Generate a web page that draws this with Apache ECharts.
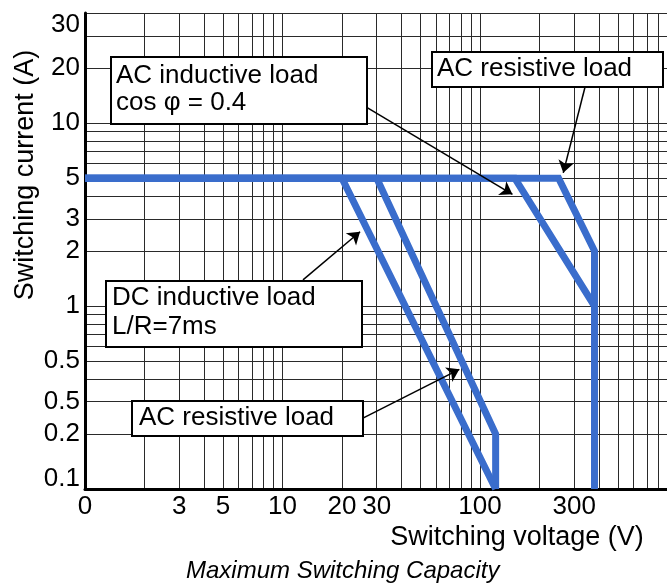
<!DOCTYPE html>
<html>
<head>
<meta charset="utf-8">
<script src="https://cdn.jsdelivr.net/npm/echarts@6/dist/echarts.min.js"></script>
<style>
html, body { margin: 0; padding: 0; background: #fff; }
#chart { width: 667px; height: 586px; }
</style>
</head>
<body>
<div id="chart"></div>
<script>
// ---- data ----
const xTickValues = [1, 3, 5, 10, 20, 30, 100, 300];
const xTickLabels = ['0', '3', '5', '10', '20', '30', '100', '300'];
const yTickValues = [0.1, 0.2, 0.3, 0.5, 1, 2, 3, 5, 10, 20, 30];
const yTickLabels = ['0.1', '0.2', '0.5', '0.5', '1', '2', '3', '5', '10', '20', '30'];
const xGridValues = [2, 3, 4, 5, 6, 7, 8, 9, 10, 20, 30, 40, 50, 60, 70, 80, 90, 100, 200, 300, 400, 500, 600, 700, 800];
const yGridValues = [0.2, 0.3, 0.4, 0.5, 0.6, 0.7, 0.8, 0.9, 1, 2, 3, 4, 5, 6, 7, 8, 9, 10, 20, 30, 40];
const acResistiveHigh = [[1, 5], [250, 5], [380, 2], [380, 0.1]];
const acInductive = [[1, 5], [150, 5], [380, 1], [380, 0.1]];
const acResistiveLow = [[1, 5], [30, 5], [120, 0.2], [120, 0.1]];
const dcInductive = [[1, 5], [20, 5], [120, 0.1]];
// annotation arrows (from -> to, in data units)
const arrowFrom = [[26.7, 12.2], [340, 15.7], [12.7, 1.39], [25.7, 0.245]];
const arrowTo = [[146, 4.08], [264, 5.35], [24.7, 2.55], [78.6, 0.451]];

// ---- styling ----
const FONT = '"Liberation Sans", Arial, Helvetica, sans-serif';
const BLUE = '#3a6dcc';
const GRID = '#2a2a2a';
const yLabelRaise = { '30': 11, '0.1': 10 };

function nearestIndex(vals, v) {
  let best = 0, bd = Infinity;
  for (let i = 0; i < vals.length; i++) {
    const d = Math.abs(Math.log(v) - Math.log(vals[i]));
    if (d < bd) { bd = d; best = i; }
  }
  return best;
}

function blueSeries(name, data, extra) {
  return Object.assign({
    name: name,
    type: 'line',
    data: data,
    symbol: 'none',
    silent: true,
    lineStyle: { color: BLUE, width: 7, join: 'miter', cap: 'butt' },
    z: 3
  }, extra || {});
}

const chart = echarts.init(document.getElementById('chart'), null, { renderer: 'canvas' });

const rich = {
  n: { fontSize: 26, fontFamily: FONT, color: '#000' },
  up10: { fontSize: 26, fontFamily: FONT, color: '#000', padding: [0, 0, 20, 0] },
  up11: { fontSize: 26, fontFamily: FONT, color: '#000', padding: [0, 0, 22, 0] }
};

function boxText(x, y, text) {
  return {
    type: 'text', x: x, y: y, z: 101, silent: true,
    style: {
      text: text, font: '26px ' + FONT, fill: '#000',
      align: 'left', textAlign: 'left', verticalAlign: 'middle', textVerticalAlign: 'middle'
    }
  };
}
function boxRect(x, y, w, h) {
  return {
    type: 'rect', z: 100, silent: true,
    shape: { x: x, y: y, width: w, height: h },
    style: { fill: '#fff', stroke: '#000', lineWidth: 2 }
  };
}

const option = {
  animation: false,
  backgroundColor: '#fff',
  title: {
    text: 'Maximum Switching Capacity',
    left: 186, top: 559, padding: 0,
    textStyle: { fontSize: 24, fontStyle: 'italic', fontWeight: 'normal', fontFamily: FONT, color: '#000' }
  },
  grid: { left: 85, top: 13, width: 592.5, height: 476, containLabel: false, outerBoundsMode: 'none' },
  xAxis: {
    type: 'log', logBase: 10, min: 1, max: 1000,
    axisLine: { show: true, lineStyle: { color: '#000', width: 3 } },
    axisTick: { show: false, customValues: xGridValues },
    minorTick: { show: false },
    splitLine: { show: true, lineStyle: { color: GRID, width: 1 } },
    axisLabel: {
      customValues: xTickValues,
      margin: 5,
      hideOverlap: false,
      fontSize: 26, fontFamily: FONT, color: '#000',
      formatter: function (v) { return xTickLabels[nearestIndex(xTickValues, v)]; }
    }
  },
  yAxis: {
    type: 'log', logBase: 10, min: 0.1, max: 40,
    axisLine: { show: true, lineStyle: { color: '#000', width: 3 } },
    axisTick: { show: false, customValues: yGridValues },
    minorTick: { show: false },
    splitLine: { show: true, lineStyle: { color: GRID, width: 1 } },
    axisLabel: {
      customValues: yTickValues,
      margin: 5,
      hideOverlap: false,
      fontSize: 26, fontFamily: FONT, color: '#000',
      formatter: function (v) {
        const i = nearestIndex(yTickValues, v);
        const t = yTickLabels[i];
        const r = yLabelRaise[String(yTickValues[i])];
        if (r === 10) return '{up10|' + t + '}';
        if (r === 11) return '{up11|' + t + '}';
        return '{n|' + t + '}';
      },
      rich: rich
    }
  },
  series: [
    blueSeries('AC resistive load', acResistiveHigh),
    blueSeries('AC inductive load', acInductive),
    blueSeries('AC resistive load (low)', acResistiveLow),
    blueSeries('DC inductive load', dcInductive, {
      markLine: {
        silent: true,
        symbol: ['none', 'arrow'],
        symbolSize: 12,
        label: { show: false },
        lineStyle: { color: '#000', width: 1.5, type: 'solid' },
        itemStyle: { color: '#000' },
        emphasis: { disabled: true },
        data: arrowFrom.map(function (f, i) {
          return [{ coord: f }, { coord: arrowTo[i] }];
        })
      }
    })
  ],
  graphic: [
    boxRect(111, 57, 256, 67),
    boxText(116, 75.5, 'AC inductive load'),
    boxText(116, 103, 'cos φ = 0.4'),
    boxRect(432, 52, 231, 35),
    boxText(437, 69, 'AC resistive load'),
    boxRect(106, 281, 256, 66),
    boxText(112, 297.5, 'DC inductive load'),
    boxText(112, 327, 'L/R=7ms'),
    boxRect(132, 401, 231, 35),
    boxText(139, 417.5, 'AC resistive load'),
    {
      type: 'text', x: 26, y: 175, rotation: Math.PI / 2, z: 101, silent: true,
      style: {
        text: 'Switching current (A)', font: '27px ' + FONT, fill: '#000',
        align: 'center', textAlign: 'center', verticalAlign: 'middle', textVerticalAlign: 'middle'
      }
    },
    {
      type: 'text', x: 517, y: 538, z: 101, silent: true,
      style: {
        text: 'Switching voltage (V)', font: '27px ' + FONT, fill: '#000',
        align: 'center', textAlign: 'center', verticalAlign: 'middle', textVerticalAlign: 'middle'
      }
    }
  ]
};

chart.setOption(option);
</script>
</body>
</html>
